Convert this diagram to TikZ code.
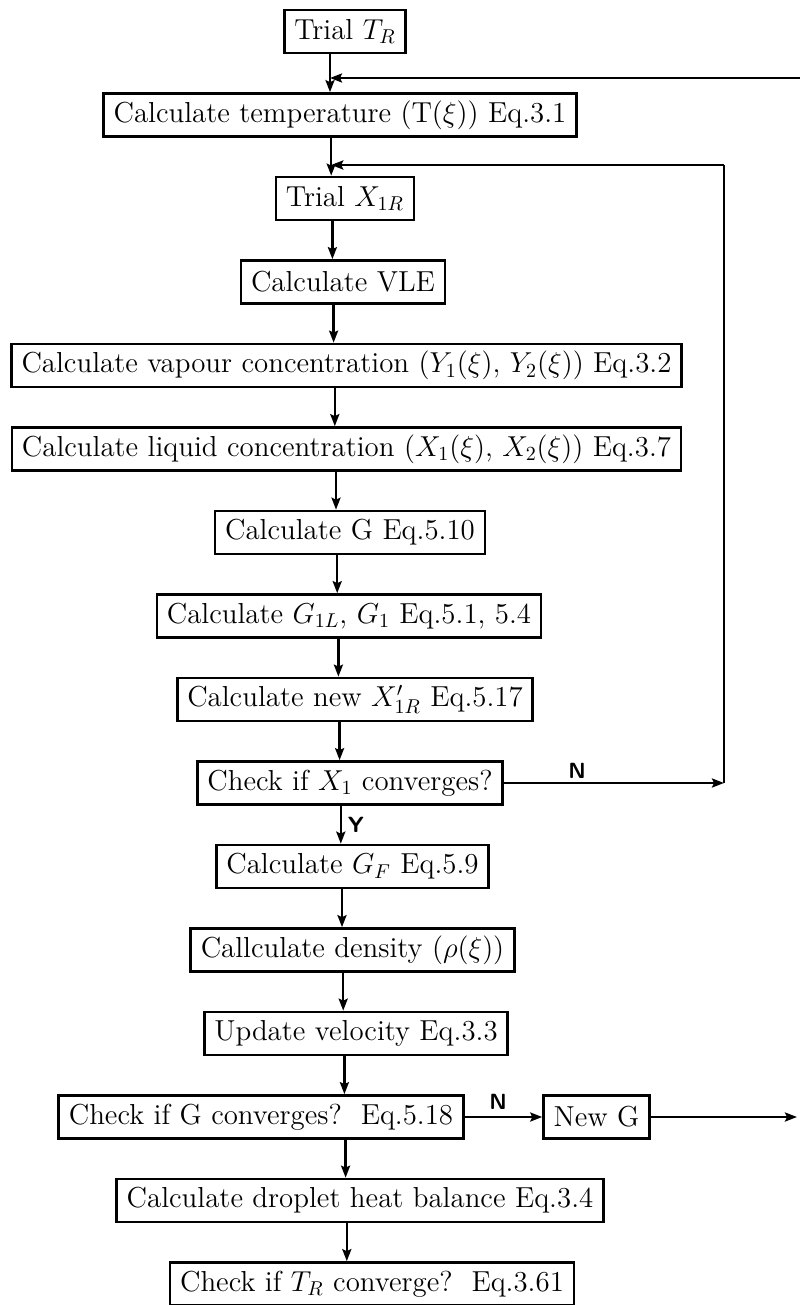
\documentclass[tikz,border=0pt]{standalone}
\usetikzlibrary{arrows.meta}
\begin{document}
\begin{tikzpicture}[x=0.5pt,y=-0.5pt,
  box/.style={draw,line width=1.35pt,font=\fontsize{14.45}{17}\selectfont,inner xsep=5pt,inner ysep=0pt,minimum height=21.5pt},
  arr/.style={line width=1.2pt,-{Stealth[length=6pt,width=4.5pt,inset=1pt]}},
  ln/.style={line width=1.2pt},
  lab/.style={font=\sffamily\bfseries\fontsize{11}{13}\selectfont,inner sep=1pt}]
\useasboundingbox (0,0) rectangle (799,1305);
% boxes
\node[box] (tr)  at (345,31.5)   {Trial $T_R$};
\node[box] (ct)  at (340,115)    {Calculate temperature (T($\xi$)) Eq.3.1};
\node[box] (tx)  at (345,198.5)  {Trial $X_{1R}$};
\node[box] (vle) at (343,282)    {Calculate VLE};
\node[box] (vap) at (346.5,365.5){Calculate vapour concentration ($Y_1(\xi)$, $Y_2(\xi)$) Eq.3.2};
\node[box] (liq) at (346.5,449)  {Calculate liquid concentration ($X_1(\xi)$, $X_2(\xi)$) Eq.3.7};
\node[box] (g)   at (350,532.5)  {Calculate G Eq.5.10};
\node[box] (g1)  at (349,616)    {Calculate $G_{1L}$, $G_1$ Eq.5.1, 5.4};
\node[box] (nx)  at (355,699.5)  {Calculate new $X'_{1R}$ Eq.5.17};
\node[box] (cx)  at (350,783)    {Check if $X_1$ converges?};
\node[box] (gf)  at (352.5,866.5){Calculate $G_F$ Eq.5.9};
\node[box] (rho) at (352.5,950)  {Callculate density ($\rho(\xi)$)};
\node[box] (vel) at (356,1033.5) {Update velocity Eq.3.3};
\node[box] (cg)  at (261,1117)   {Check if G converges?\ \ Eq.5.18};
\node[box] (ng)  at (596.5,1117) {New G};
\node[box] (hb)  at (360,1200.5) {Calculate droplet heat balance Eq.3.4};
\node[box] (ctr) at (372,1284)   {Check if $T_R$ converge?\ \ Eq.3.61};
% x positions of the main vertical connectors
\coordinate (a0) at (330,0);
\coordinate (a1) at (331.2,0);
\coordinate (a2) at (332.4,0);
\coordinate (a3) at (333.6,0);
\coordinate (a4) at (334.8,0);
\coordinate (a5) at (336,0);
\coordinate (a6) at (337.2,0);
\coordinate (a7) at (338.4,0);
\coordinate (a8) at (339.6,0);
\coordinate (a9) at (340.8,0);
\coordinate (a10) at (342,0);
\coordinate (a11) at (343.2,0);
\coordinate (a12) at (344.4,0);
\coordinate (a13) at (345.6,0);
\coordinate (a14) at (346.8,0);
% main flow
\draw[arr] (tr.south -| a0) -- (ct.north -| a0);
\draw[arr] (ct.south -| a1) -- (tx.north -| a1);
\draw[arr] (tx.south -| a2) -- (vle.north -| a2);
\draw[arr] (vle.south -| a3) -- (vap.north -| a3);
\draw[arr] (vap.south -| a4) -- (liq.north -| a4);
\draw[arr] (liq.south -| a5) -- (g.north -| a5);
\draw[arr] (g.south -| a6) -- (g1.north -| a6);
\draw[arr] (g1.south -| a7) -- (nx.north -| a7);
\draw[arr] (nx.south -| a8) -- (cx.north -| a8);
\draw[arr] (cx.south -| a9) -- (gf.north -| a9);
\draw[arr] (gf.south -| a10) -- (rho.north -| a10);
\draw[arr] (rho.south -| a11) -- (vel.north -| a11);
\draw[arr] (vel.south -| a12) -- (cg.north -| a12);
\draw[arr] (cg.south -| a13) -- (hb.north -| a13);
\draw[arr] (hb.south -| a14) -- (ctr.north -| a14);
% inner loop (X1 not converged)
\coordinate (j1) at (331.2,165);
\coordinate (c1) at (724,783);
\coordinate (c1t) at (724,165);
\draw[arr] (cx.east) -- (c1);
\draw[ln] (c1) -- (c1t);
\draw[arr] (c1t) -- (j1);
% outer loop (G not converged), its vertical runs just beyond the page edge
\coordinate (j0) at (330,78);
\coordinate (re) at (797,1117);
\coordinate (rb) at (804,1117);
\coordinate (rt) at (804,78);
\draw[arr] (cg.east) -- (ng.west);
\draw[arr] (ng.east) -- (re);
\draw[ln] (rb) -- (rt);
\draw[arr] (rt) -- (j0);
% labels
\node[lab] (lN1) at (577,771) {N};
\node[lab] (lY)  at (356,825) {Y};
\node[lab] (lN2) at (498,1102) {N};
\end{tikzpicture}
\end{document}
